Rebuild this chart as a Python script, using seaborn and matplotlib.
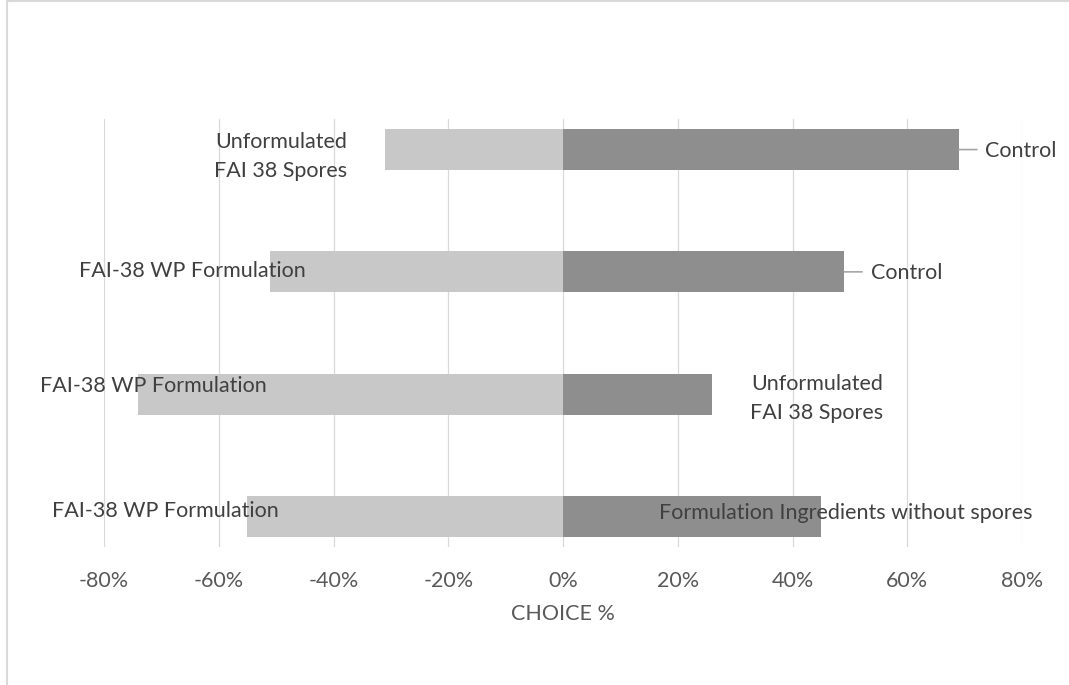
import matplotlib
matplotlib.use("Agg")
import matplotlib.pyplot as plt
from matplotlib.lines import Line2D
from matplotlib.ticker import FixedLocator, FuncFormatter
import pandas as pd
import seaborn as sns

# Preference test: share of insects choosing each side of a paired arena
pairs = ["Pair 1", "Pair 2", "Pair 3", "Pair 4"]
left_names = ["Unformulated\nFAI 38 Spores", "FAI-38 WP Formulation",
              "FAI-38 WP Formulation", "FAI-38 WP Formulation"]
right_names = ["Control", "Control", "Unformulated\nFAI 38 Spores",
               "Formulation Ingredients without spores"]
left_share = [-31, -51, -74, -55]
right_share = [69, 49, 26, 45]
x_ticks = [-80, -60, -40, -20, 0, 20, 40, 60, 80]

sns.set_style("white")
plt.rcParams["font.family"] = ["Lato", "DejaVu Sans"]
plt.rcParams["axes.unicode_minus"] = False

FS = 15.5

df = pd.DataFrame({
    "pair": pairs * 2,
    "side": ["left"] * len(pairs) + ["right"] * len(pairs),
    "share": left_share + right_share,
})

fig = plt.figure(figsize=(10.69, 6.85), dpi=100)
ax = fig.add_axes([104 / 1069, 138 / 685, 918 / 1069, 428 / 685])

sns.barplot(data=df, x="share", y="pair", hue="side", order=pairs,
            hue_order=["left", "right"], dodge=False, orient="h",
            palette={"left": "#C8C8C8", "right": "#8E8E8E"},
            width=0.335, legend=False, ax=ax, zorder=2,
            linewidth=0, edgecolor="none")

ax.set_xlim(-80, 80)
ax.set_ylim(3.25, -0.25)
ax.xaxis.set_major_locator(FixedLocator(x_ticks))
ax.xaxis.set_major_formatter(FuncFormatter(lambda v, _: f"{v:.0f}%"))
ax.grid(axis="x", color="#D9D9D9", linewidth=0.9, zorder=0)
ax.grid(axis="y", visible=False)
ax.set_axisbelow(True)
for s in ax.spines.values():
    s.set_visible(False)
ax.set_yticks([])
ax.set_ylabel("")
ax.tick_params(axis="x", length=0, pad=17, labelsize=FS, labelcolor="#595959")
ax.set_xlabel("CHOICE %", fontsize=FS, color="#595959", labelpad=10)

text_kw = dict(fontsize=FS, color="#404040", textcoords="offset pixels",
               va="center", annotation_clip=False, linespacing=1.55)

# left-hand data labels (offsets in pixels from the bar end)
left_offsets = [((-38, -7), "right"), ((-78, 1), "center"),
                ((128, 8), "right"), ((31, 5), "right")]
for i, (name, val) in enumerate(zip(left_names, left_share)):
    (dx, dy), ha = left_offsets[i]
    ax.annotate(name, xy=(val, i), xytext=(dx, dy), ha=ha,
                multialignment="right", **text_kw)

# right-hand data labels
right_offsets = [((26, -1), "left"), ((27, -1), "left"),
                 ((171, -4), "right"), ((25, 3), "center")]
for i, (name, val) in enumerate(zip(right_names, right_share)):
    (dx, dy), ha = right_offsets[i]
    ax.annotate(name, xy=(val, i), xytext=(dx, dy), ha=ha,
                multialignment="right", **text_kw)

# leader lines for the two "Control" labels
for i in (0, 1):
    ax.annotate("", xy=(right_share[i], i), xytext=(18, 0),
                textcoords="offset pixels",
                arrowprops=dict(arrowstyle="-", color="#A6A6A6", lw=1.2,
                                shrinkA=0, shrinkB=0))

# chart frame (top and left edges)
fig.add_artist(Line2D([6.5 / 1069, 6.5 / 1069], [0, 1], color="#D9D9D9", lw=1.5))
fig.add_artist(Line2D([6.5 / 1069, 1], [1 - 1 / 685, 1 - 1 / 685], color="#D9D9D9", lw=1.5))

fig.savefig("out.png", dpi=100, facecolor="white")
